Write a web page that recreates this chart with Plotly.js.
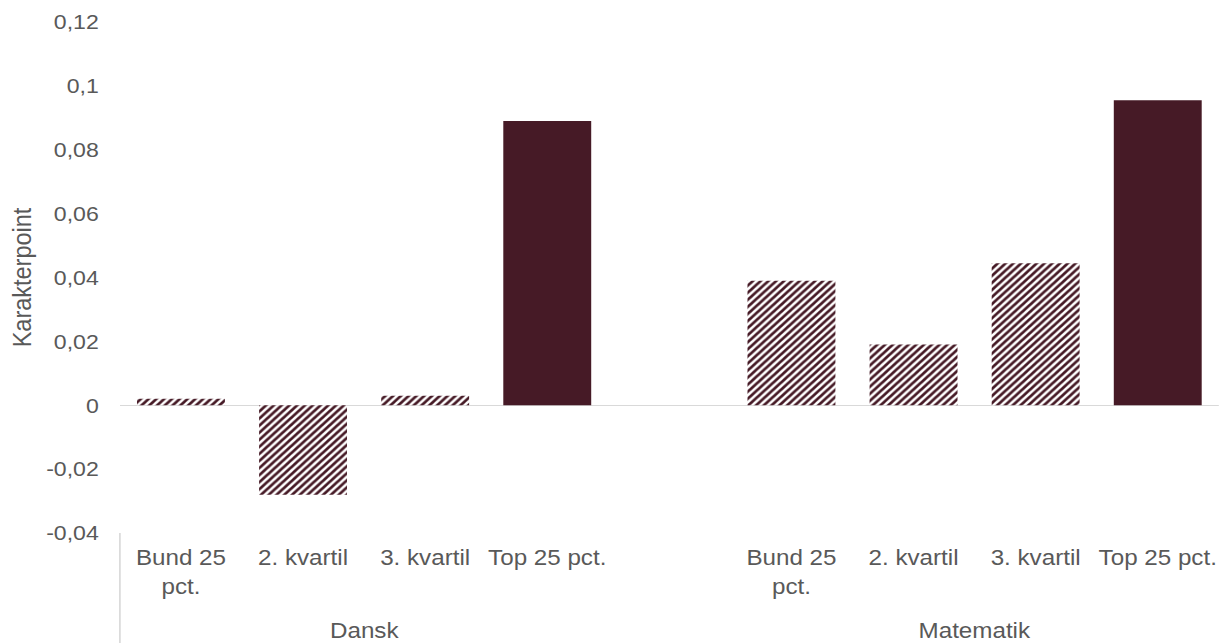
<!DOCTYPE html>
<html>
<head>
<meta charset="utf-8">
<script src="https://cdn.plot.ly/plotly-3.0.1.min.js"></script>
<style>
html,body{margin:0;padding:0;background:#fff;overflow:hidden;width:1219px;height:643px;}
#chart{width:1108px;height:643px;transform:scaleX(1.1);transform-origin:0 0;}
</style>
</head>
<body>
<div id="chart"></div>
<script>
const groups = ['Dansk', 'Matematik'];
const subLabels = ['Bund 25<br>pct.', '2. kvartil', '3. kvartil', 'Top 25 pct.'];
const dansk = [0.002, -0.028, 0.003, 0.089];
const matematik = [0.039, 0.019, 0.0445, 0.0955];
const hatched = [true, true, true, false];
const yTickVals = [-0.04, -0.02, 0, 0.02, 0.04, 0.06, 0.08, 0.1, 0.12];
const yTickText = ['-0,04', '-0,02', '0', '0,02', '0,04', '0,06', '0,08', '0,1', '0,12'];

const series = [dansk, matematik];
const xs = [], ys = [], shapes = [], tickvals = [], ticktext = [];
series.forEach((vals, g) => {
  vals.forEach((v, i) => {
    const pos = g * (subLabels.length + 1) + i;
    xs.push(pos); ys.push(v);
    shapes.push(hatched[i] ? '/' : '');
    tickvals.push(pos); ticktext.push(subLabels[i]);
  });
});
const groupCenters = groups.map((g, k) => k * (subLabels.length + 1) + (subLabels.length - 1) / 2);

const col = '#461A26';
const trace = {
  type: 'bar', x: xs, y: ys,
  marker: {
    color: col,
    line: {width: 0},
    pattern: {shape: shapes, fgcolor: col, bgcolor: '#ffffff', fgopacity: 1, size: 5, solidity: 0.52, fillmode: 'replace'}
  },
  hoverinfo: 'x+y'
};

const font = {family: 'Liberation Sans, Arial, sans-serif', size: 21, color: '#595959'};
const xfont = {family: font.family, size: 22, color: font.color};
const H = 643, T = 22, B = 110, PH = H - T - B;
const layout = {
  width: 1108, height: H,
  margin: {l: 109, r: 0, t: T, b: B},
  paper_bgcolor: '#fff', plot_bgcolor: '#fff',
  font: font,
  showlegend: false,
  bargap: 0.28,
  xaxis: {
    range: [-0.5, 8.5], tickvals: tickvals, ticktext: ticktext,
    showgrid: false, zeroline: false, showline: false,
    ticks: 'outside', ticklen: 5, tickcolor: 'rgba(0,0,0,0)', tickfont: xfont,
    fixedrange: true
  },
  yaxis: {
    range: [-0.04, 0.12], tickvals: yTickVals, ticktext: yTickText,
    showgrid: false, zeroline: true, zerolinecolor: '#d9d9d9', zerolinewidth: 1.5,
    showline: false, ticks: 'outside', ticklen: 14, tickcolor: 'rgba(0,0,0,0)',
    tickfont: font,
    title: {text: 'Karakterpoint', font: {family: font.family, size: 23.5, color: font.color}, standoff: 6}
  },
  shapes: [{type: 'line', xref: 'paper', yref: 'paper', x0: 0, x1: 0, y0: 0, y1: -B / PH, line: {color: '#d9d9d9', width: 1.5}}],
  annotations: groups.map((g, k) => ({
    text: g, x: groupCenters[k], xref: 'x', y: -97 / PH, yref: 'paper',
    yanchor: 'middle', xanchor: 'center', showarrow: false, font: xfont
  }))
};
Plotly.newPlot('chart', [trace], layout, {displayModeBar: false, staticPlot: true});
</script>
</body>
</html>
